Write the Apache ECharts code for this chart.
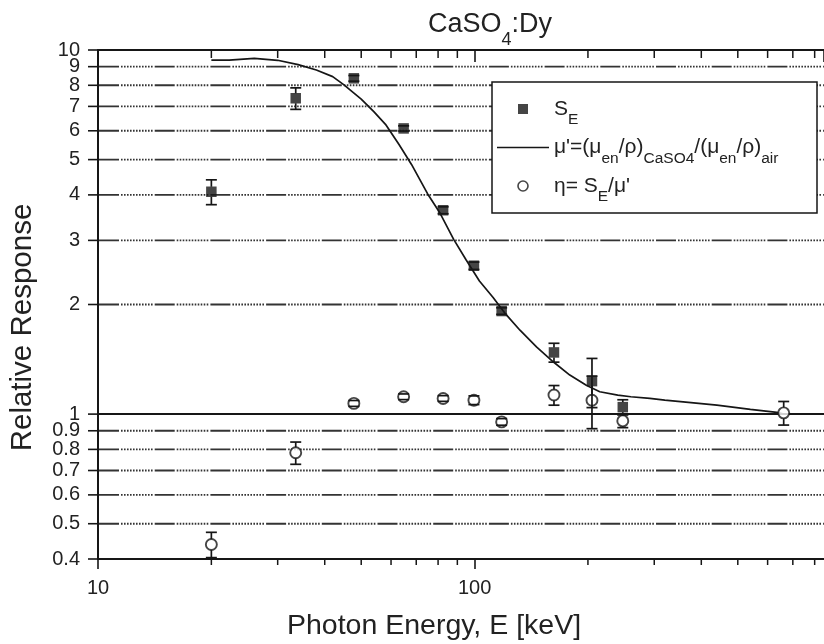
<!DOCTYPE html>
<html>
<head>
<meta charset="utf-8">
<title>CaSO4:Dy relative response</title>
<script src="https://cdn.jsdelivr.net/npm/echarts@6/dist/echarts.min.js"></script>
<style>
  html, body { margin: 0; padding: 0; background: #fff; }
  #chart { width: 824px; height: 644px; }
</style>
</head>
<body>
<div id="chart"></div>
<script>
// Measured relative response S_E of CaSO4:Dy dosimeters (X-ray qualities)
const energiesSE = [20, 33.5, 47.8, 64.8, 82.5, 99.6, 118, 162.5, 205, 247.5];
const responseSE = [4.08, 7.37, 8.36, 6.09, 3.63, 2.556, 1.919, 1.477, 1.232, 1.045];
const errorSE    = [0.32, 0.5, 0.15, 0.1, 0.08, 0.06, 0.04, 0.088, 0.19, 0.05];

// Intrinsic efficiency eta = S_E / mu' (last point: Cs-137, 662 keV)
const energiesEta = [20, 33.5, 47.8, 64.8, 82.5, 99.6, 118, 162.5, 205, 247.5, 662];
const responseEta = [0.4385, 0.783, 1.07, 1.116, 1.104, 1.092, 0.952, 1.128, 1.092, 0.958, 1.008];
const errorEta    = [0.035, 0.055, 0.02, 0.02, 0.02, 0.03, 0.02, 0.07, 0.18, 0.04, 0.075];

// Ratio of mass energy-absorption coefficients, CaSO4 to air
const muEnergies = [20, 22.3, 22.5, 26.0, 26.3, 30, 34, 38, 42, 45, 50, 54, 58, 63, 68, 75, 81, 88, 95,
                    103, 112, 120, 132, 146, 162, 179, 198, 215, 240, 260, 292, 320, 358, 440, 540, 635, 662];
const muRatio    = [9.38, 9.38, 9.48, 9.48, 9.38, 9.37, 9.12, 8.81, 8.45, 8.02, 7.33, 6.77, 6.25, 5.5, 4.85,
                    4.03, 3.56, 3.02, 2.65, 2.32, 2.09, 1.9, 1.7, 1.53, 1.39, 1.28, 1.2, 1.152, 1.128, 1.116,
                    1.104, 1.093, 1.081, 1.058, 1.03, 1.011, 1.0];

// Axis ticks
const yTickValues = [0.4, 0.5, 0.6, 0.7, 0.8, 0.9, 1, 2, 3, 4, 5, 6, 7, 8, 9, 10];
const yTickLabels = ['0.4', '0.5', '0.6', '0.7', '0.8', '0.9', '1', '2', '3', '4', '5', '6', '7', '8', '9', '10'];
const xMinorTicks = [20, 30, 40, 50, 60, 70, 80, 90, 200, 300, 400, 500, 600, 700, 800];

const X_MIN = 10, X_MAX = 847, Y_MIN = 0.4, Y_MAX = 10, UNITY = 1;

const INK = '#161616';
const TEXT = '#222';
const FONT = '"Liberation Sans", Arial, Helvetica, sans-serif';

// dash followed by a run of fine dots
const gridDash = [20, 2, 1.6, 1.4, 1.6, 1.4, 1.6, 1.4, 1.6, 1.4, 1.6, 1.4, 1.6, 1.4,
                  1.6, 1.4, 1.6, 1.4, 1.6, 1.4, 1.6, 1.4, 1.6, 2.1];

const legendLabels = {
  'S_E': 'S{sub|E}',
  "mu'": "μ'=(μ{sub|en}/ρ){sub|CaSO4}/(μ{sub|en}/ρ){sub|air}",
  'eta': "η= S{sub|E}/μ'"
};

function pairs(xs, ys) { return xs.map((x, i) => [x, ys[i]]); }
function triples(xs, ys, es) { return xs.map((x, i) => [x, ys[i], es[i]]); }

// y ticks, labels and horizontal grid lines
function renderYDecor(params, api) {
  const v = api.value(1);
  const l = api.coord([X_MIN, v]);
  const r = api.coord([X_MAX, v]);
  const children = [
    { type: 'line', shape: { x1: l[0] - 10, y1: l[1], x2: l[0], y2: l[1] },
      style: { stroke: INK, lineWidth: 1.6 } },
    { type: 'text', style: { text: yTickLabels[params.dataIndex], x: l[0] - 18, y: l[1],
      align: 'right', verticalAlign: 'middle', fontSize: 20, fontFamily: FONT, fill: TEXT } }
  ];
  if (v === UNITY) {
    children.push({ type: 'line', shape: { x1: l[0], y1: l[1], x2: r[0], y2: r[1] },
      style: { stroke: INK, lineWidth: 2 } });
  } else if (v > Y_MIN && v < Y_MAX) {
    children.push({ type: 'line', shape: { x1: l[0] + 1, y1: l[1], x2: r[0], y2: r[1] },
      style: { stroke: '#333', lineWidth: 1.9, lineDash: gridDash } });
  }
  return { type: 'group', children };
}

// minor ticks on the bottom and top energy axes
function renderXMinor(params, api) {
  const e = api.value(0);
  const b = api.coord([e, Y_MIN]);
  const t = api.coord([e, Y_MAX]);
  return { type: 'group', children: [
    { type: 'line', shape: { x1: b[0], y1: b[1], x2: b[0], y2: b[1] + 6 }, style: { stroke: INK, lineWidth: 1.5 } },
    { type: 'line', shape: { x1: t[0], y1: t[1], x2: t[0], y2: t[1] + 8 }, style: { stroke: INK, lineWidth: 1.5 } }
  ] };
}

// error bars starting at the marker edge, with caps
function makeErrorRenderer(radius) {
  return function (params, api) {
    const e = api.value(0), v = api.value(1), err = api.value(2);
    const c = api.coord([e, v]);
    const top = api.coord([e, v + err]);
    const bot = api.coord([e, v - err]);
    const half = 5.5;
    const st = { stroke: INK, lineWidth: 1.7 };
    const children = [
      { type: 'line', shape: { x1: c[0] - half, y1: top[1], x2: c[0] + half, y2: top[1] }, style: st },
      { type: 'line', shape: { x1: c[0] - half, y1: bot[1], x2: c[0] + half, y2: bot[1] }, style: st }
    ];
    if (top[1] < c[1] - radius) {
      children.push({ type: 'line', shape: { x1: c[0], y1: top[1], x2: c[0], y2: c[1] - radius }, style: st });
    }
    if (bot[1] > c[1] + radius) {
      children.push({ type: 'line', shape: { x1: c[0], y1: c[1] + radius, x2: c[0], y2: bot[1] }, style: st });
    }
    return { type: 'group', children };
  };
}

const chart = echarts.init(document.getElementById('chart'), null, { renderer: 'canvas' });

chart.setOption({
  animation: false,
  backgroundColor: '#fff',
  title: {
    text: 'CaSO{sub|4}:Dy',
    left: 490, top: 0, textAlign: 'center', padding: 0,
    textStyle: {
      fontSize: 27, fontWeight: 'normal', color: TEXT, fontFamily: FONT,
      rich: { sub: { fontSize: 18, padding: [31, 0, 0, 0], color: TEXT, fontFamily: FONT } }
    }
  },
  grid: { left: 98, right: 0, top: 50, bottom: 85, containLabel: false, outerBoundsMode: 'none' },
  graphic: [
    { type: 'rect', z: 5, shape: { x: 492, y: 82, width: 325, height: 131 },
      style: { fill: '#fff', stroke: INK, lineWidth: 1.5 } }
  ],
  legend: {
    z: 6, orient: 'vertical', left: 497, top: 98.5, padding: 0, itemGap: 9,
    itemWidth: 52, itemHeight: 10, symbolKeepAspect: true, selectedMode: false,
    formatter: name => legendLabels[name],
    textStyle: {
      fontSize: 21, color: TEXT, fontFamily: FONT,
      rich: { sub: { fontSize: 15.5, padding: [22, 0, 0, 0], color: TEXT, fontFamily: FONT } }
    },
    data: [
      { name: 'S_E', icon: 'path://M0,0H10V10H0Z', itemStyle: { color: INK, borderWidth: 0 } },
      { name: "mu'", icon: 'path://M0,0H52V1.6H0Z', itemStyle: { color: INK, borderWidth: 0 } },
      { name: 'eta', icon: 'path://M5,0A5,5,0,1,1,4.99,0Z',
        itemStyle: { color: '#fff', borderColor: INK, borderWidth: 1.6 } }
    ]
  },
  xAxis: [
    {
      type: 'log', logBase: 10, min: X_MIN, max: X_MAX, position: 'bottom',
      name: 'Photon Energy, E [keV]', nameLocation: 'middle', nameGap: 53,
      nameTextStyle: { fontSize: 28.5, color: TEXT, fontFamily: FONT, padding: [0, 54, 0, 0] },
      axisLine: { onZero: false, lineStyle: { color: INK, width: 2 } },
      axisTick: { inside: false, length: 10, lineStyle: { color: INK, width: 1.6 } },
      axisLabel: { fontSize: 20, color: TEXT, fontFamily: FONT, margin: 19, showMaxLabel: false },
      splitLine: { show: false }
    },
    {
      type: 'log', logBase: 10, min: X_MIN, max: X_MAX, position: 'top',
      axisLine: { onZero: false, lineStyle: { color: INK, width: 2 } },
      axisTick: { inside: true, length: 12, lineStyle: { color: INK, width: 1.6 } },
      axisLabel: { show: false },
      splitLine: { show: false }
    }
  ],
  yAxis: {
    type: 'log', logBase: 10, min: Y_MIN, max: Y_MAX, position: 'left',
    name: 'Relative Response', nameLocation: 'middle', nameGap: 60, nameRotate: 90,
    nameTextStyle: { fontSize: 29.5, color: TEXT, fontFamily: FONT, padding: [0, 46, 0, 0] },
    axisLine: { onZero: false, lineStyle: { color: INK, width: 2 } },
    axisTick: { show: false },
    axisLabel: { show: false },
    splitLine: { show: false }
  },
  series: [
    {
      name: 'yDecor', type: 'custom', z: 1, clip: false, silent: true,
      renderItem: renderYDecor,
      data: yTickValues.map(v => [X_MIN, v])
    },
    {
      name: 'xMinor', type: 'custom', z: 1, clip: false, silent: true,
      renderItem: renderXMinor,
      data: xMinorTicks.map(e => [e, Y_MIN])
    },
    {
      name: "mu'", type: 'line', z: 2, symbol: 'none', showSymbol: false, smooth: false,
      color: INK, lineStyle: { color: INK, width: 1.7 },
      data: pairs(muEnergies, muRatio)
    },
    {
      name: 'S_E', type: 'scatter', z: 3, symbol: 'rect', symbolSize: 10.5,
      itemStyle: { color: INK },
      data: pairs(energiesSE, responseSE)
    },
    {
      name: 'eta', type: 'scatter', z: 3, symbol: 'circle', symbolSize: 11,
      itemStyle: { color: '#fff', borderColor: INK, borderWidth: 1.9 },
      data: pairs(energiesEta, responseEta)
    },
    {
      name: 'S_E error', type: 'custom', z: 4, clip: false, silent: true,
      renderItem: makeErrorRenderer(5),
      data: triples(energiesSE, responseSE, errorSE)
    },
    {
      name: 'eta error', type: 'custom', z: 4, clip: false, silent: true,
      renderItem: makeErrorRenderer(5.5),
      data: triples(energiesEta, responseEta, errorEta)
    }
  ]
});
</script>
</body>
</html>
